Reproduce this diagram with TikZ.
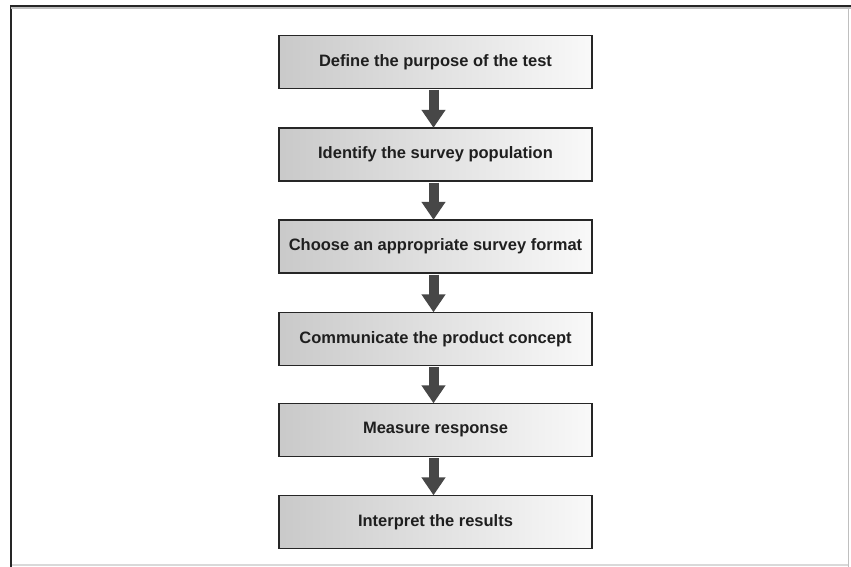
\documentclass[tikz,border=0pt]{standalone}
\usepackage{fontspec}
\setmainfont{Liberation Sans}
\usetikzlibrary{arrows.meta}
\tikzset{
  stepbox/.style={draw=black!85, line width=1.4pt, left color=gray!42, right color=gray!5,
    minimum width=313pt, minimum height=53pt, inner sep=0pt,
    font=\fontsize{16.5}{19}\selectfont\bfseries, text=black!88},
  flowarrow/.style={draw=black!72, line width=10pt,
    -{Triangle[width=23pt,length=18pt]}, shorten <=0.8pt, shorten >=-0.5pt}
}
\begin{document}
\begin{tikzpicture}[x=1pt,y=-1pt]
\useasboundingbox (0,0) rectangle (851,567);
\fill[white] (0,0) rectangle (851,567);
% frame of the photographed page
\draw[black!85, line width=2.6pt] (11,567) -- (11,6) -- (851,6);
\draw[black!25, line width=2pt] (11,7.8) -- (851,7.8);
\draw[black!25, line width=1pt] (848,8) -- (848,567);
\draw[black!15, line width=1.2pt] (12,565) -- (848,565);
% boxes
\node[stepbox] (b1) at (435.5,62) {Define the purpose of the test};
\node[stepbox] (b2) at (435.5,154.5) {Identify the survey population};
\node[stepbox] (b3) at (435.5,246.5) {Choose an appropriate survey format};
\node[stepbox] (b4) at (435.5,339) {Communicate the product concept};
\node[stepbox] (b5) at (435.5,430) {Measure response};
\node[stepbox] (b6) at (435.5,522) {Interpret the results};
% arrows
\foreach \a/\b in {b1/b2,b2/b3,b3/b4,b4/b5,b5/b6}{
  \draw[flowarrow] ([xshift=-2pt]\a.south) -- ([xshift=-2pt]\b.north);
}
\end{tikzpicture}
\end{document}
